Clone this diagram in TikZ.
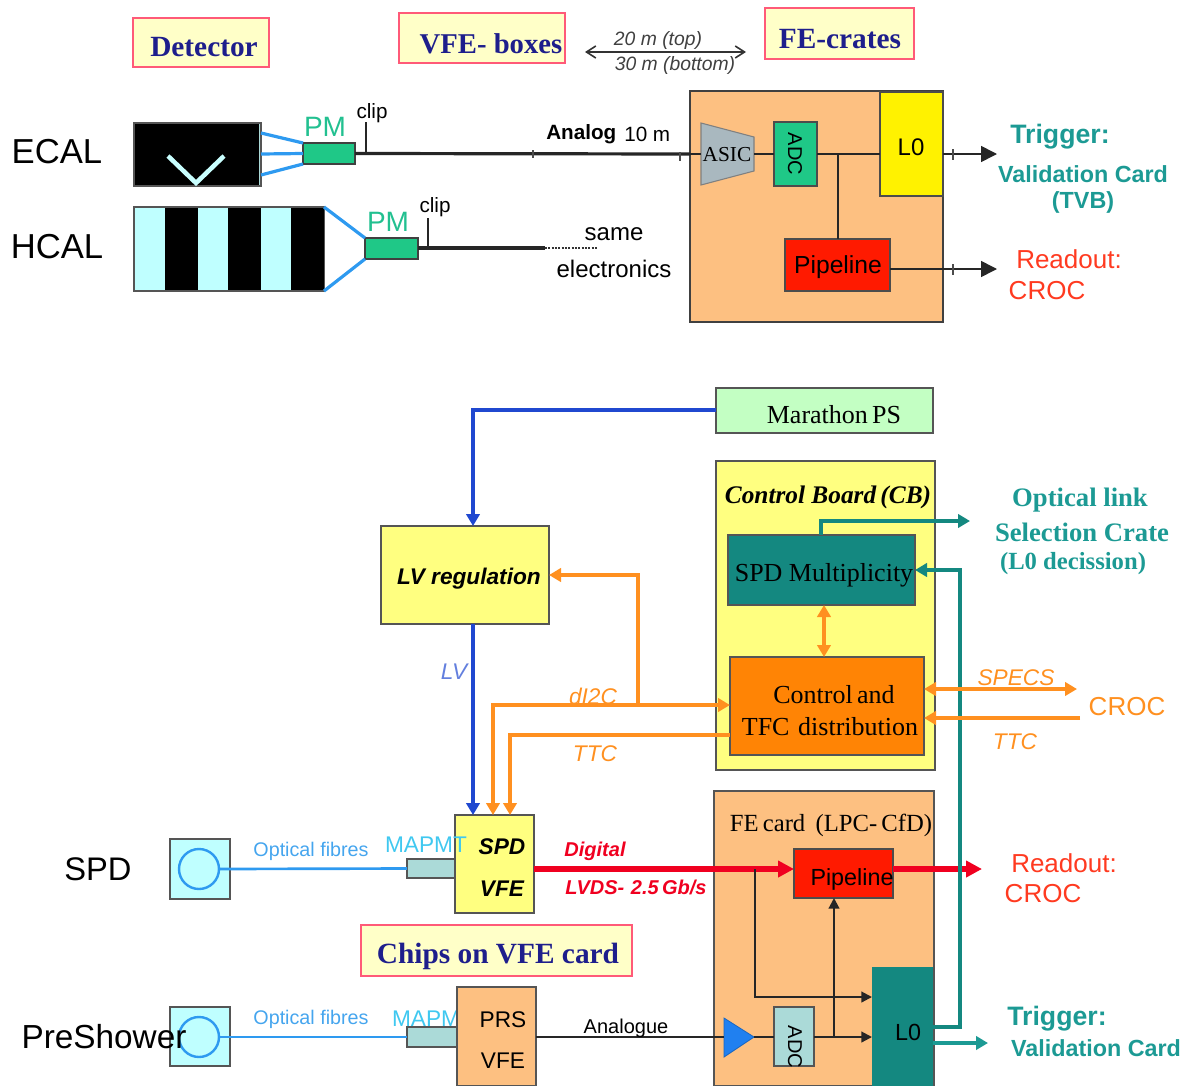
\documentclass[tikz,border=0pt]{standalone}
\usepackage{fontspec}
\setmainfont{Liberation Serif}
\setsansfont{Liberation Sans}
\usetikzlibrary{arrows.meta,calc}
\definecolor{titlefill}{HTML}{FFFFC8}
\definecolor{titleedge}{HTML}{FF5A78}
\definecolor{navy}{HTML}{1E1E8C}
\definecolor{feorange}{HTML}{FDC081}
\definecolor{pmgreen}{HTML}{1FC887}
\definecolor{pmtext}{HTML}{22C090}
\definecolor{palecyan}{HTML}{BFFFFF}
\definecolor{asicgrey}{HTML}{A9B8BF}
\definecolor{pipered}{HTML}{FF1A00}
\definecolor{teal1}{HTML}{148880}
\definecolor{tealtxt}{HTML}{1C9A94}
\definecolor{readred}{HTML}{FF3A20}
\definecolor{paleyel}{HTML}{FFFF80}
\definecolor{palegreen2}{HTML}{C3FFC3}
\definecolor{ctlorange}{HTML}{FF8405}
\definecolor{arrorange}{HTML}{FF9020}
\definecolor{lvblue}{HTML}{2048D0}
\definecolor{fibre}{HTML}{2E9AF0}
\definecolor{fibretxt}{HTML}{45A5EE}
\definecolor{mapmt}{HTML}{40C8F0}
\definecolor{adcpale}{HTML}{ABDAD8}
\definecolor{triblue}{HTML}{2080F0}
\definecolor{digred}{HTML}{F00020}
\definecolor{edgegrey}{HTML}{555555}
\newcommand{\fsz}[1]{\fontsize{#1}{#1}\selectfont}
\newcommand{\bx}[7][]{%
  \pgfmathsetmacro\bxcx{(#3+#5)/2}%
  \pgfmathsetmacro\bxcy{(#4+#6)/2}%
  \pgfmathsetmacro\bxw{abs(#5-#3)*0.75}%
  \pgfmathsetmacro\bxh{abs(#6-#4)*0.75}%
  \node[blk,#1,minimum width=\bxw pt,minimum height=\bxh pt] (#2) at (\bxcx,\bxcy) {#7};}
\tikzset{
  blk/.style={draw=edgegrey,line width=1.2pt,inner sep=0pt,outer sep=0pt,align=center},
  titlebox/.style={fill=titlefill,draw=titleedge,line width=1.8pt},
  titletxt/.style={text=navy,font=\rmfamily\bfseries\fsz{22},inner sep=0pt,yshift=-1pt},
  sans/.style={font=\sffamily\fsz{#1},inner sep=0pt,align=center,yshift=-1.5pt},
  sansb/.style={font=\sffamily\bfseries\fsz{#1},inner sep=0pt,align=center,yshift=-1.5pt},
  sansi/.style={font=\sffamily\itshape\fsz{#1},inner sep=0pt,align=center,yshift=-1.5pt},
  sansbi/.style={font=\sffamily\bfseries\itshape\fsz{#1},inner sep=0pt,align=center,yshift=-1.5pt},
  serif/.style={font=\rmfamily\fsz{#1},inner sep=0pt,align=center,yshift=-1.5pt},
  serifb/.style={font=\rmfamily\bfseries\fsz{#1},inner sep=0pt,align=center,yshift=-1.5pt},
  serifbi/.style={font=\rmfamily\bfseries\itshape\fsz{#1},inner sep=0pt,align=center,yshift=-1.5pt},
  sig/.style={draw=black!85,line width=1.6pt},
  thinsig/.style={draw=black!85,line width=1.2pt},
  tick/.style={draw=black!70,line width=.8pt},
  fib/.style={draw=fibre,line width=2pt},
  pmfib/.style={draw=fibre,line width=2.4pt},
  ora/.style={draw=arrorange,line width=3.6pt},
  tea/.style={draw=teal1,line width=3.6pt},
  blu/.style={draw=lvblue,line width=3.6pt},
  bighead/.style={-{Triangle[length=12pt,width=12pt]}},
  midhead/.style={-{Triangle[length=9pt,width=10pt]}},
  smallhead/.style={-{Triangle[length=8pt,width=8pt]}},
  bothhead/.style={{Triangle[length=9pt,width=10pt]}-{Triangle[length=9pt,width=10pt]}},
}
\begin{document}
\begin{tikzpicture}[x=0.75pt,y=-0.75pt]
\useasboundingbox (0,0) rectangle (1184,1085);
% ---- titles
\bx[titlebox]{tdet}{133}{18}{269}{67}{}
\node[titletxt] (tdett) at (204,46) {Detector};
\bx[titlebox]{tvfe}{399}{13}{565}{63}{}
\node[titletxt,font=\rmfamily\bfseries\fsz{21.5}] (tvfet) at (491,42) {VFE- boxes};
\bx[titlebox]{tfe}{765}{8}{914}{59}{}
\node[titletxt] (tfet) at (840,38) {FE-crates};
% ---- distance
\coordinate (dl) at (585,52);
\coordinate (dr) at (746,52);
\draw[draw=black!80,line width=1.2pt,{Straight Barb[length=7pt,width=9pt]}-{Straight Barb[length=7pt,width=9pt]}] (dl) -- (dr);
\node[sansi=14.5,text=black!75] (d20) at (658,39) {20 m (top)};
\node[sansi=14.5,text=black!75] (d30) at (675,63) {30 m (bottom)};
% ---- ECAL
\node[sans=26] (ecal) at (57,150) {ECAL};
\bx[fill=black,draw=edgegrey]{ecalbox}{134}{123}{261}{186}{}
\coordinate (va) at (168,156);
\coordinate (vb) at (196,183);
\coordinate (vc) at (224,156);
\draw[draw=palecyan!85!white,line width=3.4pt] (va) -- (vb) -- (vc);
\draw[draw=adcpale,line width=1.2pt] (ecalbox.north east) ++(-1.5,1) -- ($(ecalbox.south east)+(-1.5,-1)$);
\bx[fill=pmgreen,draw=black!75,line width=1.5pt]{pm1}{303}{143}{355}{164}{}
\draw[pmfib] (ecalbox.east |- 0,133) -- (pm1.north west);
\draw[pmfib] (ecalbox.east |- 0,154) -- (pm1.west);
\draw[pmfib] (ecalbox.east |- 0,175) -- (pm1.south west);
\node[sans=21,text=pmtext] (pm1t) at (325,125) {PM};
\coordinate (clip1) at (366,122);
\draw[sig] (clip1) -- (366,154);
\node[sans=15.5] (clip1t) at (372,111) {clip};
\bx[fill=feorange,draw=black!75]{febox}{690}{91}{943}{322}{}
\draw[sig,line width=2.4pt] (pm1.east) -- (febox.west |- 0,154);
\coordinate (tka) at (533,150);
\draw[tick] (tka) -- (533,158);
\coordinate (tkb) at (680,152);
\draw[tick] (tkb) -- (680,161);
\node[sansb=15.5,anchor=west] (analog) at (546,132) {Analog};
\node[sans=15.5,anchor=west] (tenm) at (624,132) {10 m};
% ---- HCAL
\node[sans=26] (hcal) at (57,245) {HCAL};
\bx[fill=palecyan,draw=edgegrey]{hcalbox}{134}{207}{324}{291}{}
\fill[black] (165,208) rectangle (198,290);
\fill[black] (228,208) rectangle (261,290);
\fill[black] (291,208) rectangle (324,290);
\bx[fill=pmgreen,draw=black!75,line width=1.5pt]{pm2}{365}{238}{418}{259}{}
\draw[pmfib] (hcalbox.north east) -- (pm2.north west);
\draw[pmfib] (hcalbox.south east) -- (pm2.south west);
\node[sans=21,text=pmtext] (pm2t) at (388,220) {PM};
\coordinate (clip2) at (428,218);
\draw[sig] (clip2) -- (428,248);
\node[sans=15.5] (clip2t) at (435,205) {clip};
\coordinate (hend) at (545,248);
\coordinate (hdot) at (597,248);
\draw[sig,line width=2.4pt] (pm2.east |- hend) -- (hend);
\draw[draw=black!80,line width=2pt,dash pattern=on 1.5pt off 1pt] (hend) -- (hdot);
\node[sans=18] (same) at (614,232) {same};
\node[sans=18] (elec) at (614,267) {electronics};
% ---- FE crate content
\bx[fill=yellow,draw=black!70]{lzero}{880}{92}{943}{196}{}
\node[sans=18] (lzerot) at (911,145) {L0};
\bx[fill=pmgreen,draw=black!70]{adc}{774}{122}{817}{186}{}
\node[sans=15,rotate=-90,xshift=-1.5pt] (adct) at (795,154) {ADC};
\bx[fill=pipered,draw=black!70]{pipe}{785}{239}{890}{291}{}
\node[sans=18.5] (pipet) at (838,265) {Pipeline};
\coordinate (asa) at (701,123);
\coordinate (asb) at (754,137);
\coordinate (asc) at (754,171);
\coordinate (asd) at (701,185);
\draw[fill=asicgrey,draw=black!50,line width=.8pt] (asa) -- (asb) -- (asc) -- (asd) -- cycle;
\node[serif=16] (asic) at (727,153) {ASIC};
\draw[thinsig,line width=1.6pt] (febox.west |- 0,154) -- (asd |- 0,154);
\draw[thinsig,line width=1.6pt] (asb |- 0,154) -- (adc.west);
\draw[thinsig,line width=1.6pt] (adc.east) -- (lzero.west |- 0,154);
\coordinate (brtop) at (838,154);
\draw[thinsig,line width=1.4pt] (brtop) -- (brtop |- pipe.north);
\coordinate (trg1) at (997,154);
\coordinate (rdo1) at (997,269);
\draw[thinsig,-{Triangle[length=12pt,width=12pt]}] (lzero.east |- trg1) -- (trg1);
\draw[thinsig,-{Triangle[length=12pt,width=12pt]}] (pipe.east |- rdo1) -- (rdo1);
\coordinate (tkc) at (953,149);
\draw[tick] (tkc) -- (953,160);
\coordinate (tkd) at (953,264);
\draw[tick] (tkd) -- (953,275);
\node[sansb=20,text=tealtxt] (trgt) at (1060,135) {Trigger:};
\node[sansb=17.5,text=tealtxt] (vct) at (1083,172) {Validation Card};
\node[sansb=17.5,text=tealtxt] (tvb) at (1083,200) {(TVB)};
\node[sans=19.5,text=readred] (rdt) at (1069,257) {Readout:};
\node[sans=19.5,text=readred] (crt) at (1047,289) {CROC};
% ---- Marathon / LV
\bx[fill=palegreen2,draw=edgegrey]{marathon}{716}{388}{933}{433}{}
\node[serif=19.5] (marathont) at (834,413) {Marathon\,PS};
\bx[fill=paleyel,draw=edgegrey]{lvreg}{381}{526}{549}{624}{}
\node[sansbi=17] (lvregt) at (469,577) {LV regulation};
\bx[fill=paleyel,draw=edgegrey]{cb}{716}{461}{935}{770}{}
\node[serifbi=19] (cbt) at (828,495) {Control Board\,(CB)};
\bx[fill=teal1,draw=edgegrey]{spdm}{728}{535}{915}{605}{}
\node[serif=19.5] (spdmt) at (824,573) {SPD Multiplicity};
\bx[fill=ctlorange,draw=edgegrey]{ctl}{730}{657}{924}{755}{}
\node[serif=19.5] (ctlt1) at (834,693) {Control\,and};
\node[serif=19.5] (ctlt2) at (830,725) {TFC\,\,distribution};
% ---- FE card, VFE
\bx[fill=feorange,draw=edgegrey]{fec}{714}{791}{934}{1086}{}
\node[serif=18.5] (fect) at (831,823) {FE\,card\, (LPC-\,CfD)};
\bx[fill=pipered,draw=black!70]{pipe2}{794}{849}{893}{898}{}
\bx[fill=teal1,draw=none]{lz2}{872}{967}{933}{1086}{}
\node[sans=17.5] (lz2t) at (908,1030) {L0};
\bx[fill=adcpale,draw=edgegrey]{adc2}{774}{1007}{814}{1066}{}
\node[sans=15,rotate=-90,xshift=-1.5pt] (adc2t) at (795,1047) {ADC};
% SPD row
\node[sans=24.5] (spdl) at (98,867) {SPD};
\bx[fill=palecyan,draw=edgegrey,line width=1.4pt]{sq1}{170}{839}{230}{899}{}
\node[circle,draw=fibre,line width=1.8pt,minimum size=30pt,inner sep=0pt] (c1) at (199,869) {};
\bx[fill=adcpale,draw=edgegrey]{mp1}{407}{859}{456}{878}{}
\draw[fib] (c1.east) -- (mp1.west);
\node[sans=14.8,text=fibretxt] (of1) at (311,849) {Optical fibres};
\bx[fill=paleyel,draw=edgegrey,line width=1.4pt]{svfe}{455}{815}{534}{913}{}
\node[sans=17,text=mapmt] (mpt1) at (426,843) {MAPMT};
\node[sansbi=17] (svfe1) at (502,845) {SPD};
\node[sansbi=17] (svfe2) at (502,887) {VFE};
\bx[titlebox]{tchips}{361}{925}{632}{976}{}
\node[titletxt] (tchipst) at (498,955) {Chips on VFE card};
% PRS row
\bx[fill=palecyan,draw=edgegrey,line width=1.4pt]{sq2}{170}{1007}{230}{1066}{}
\node[circle,draw=fibre,line width=1.8pt,minimum size=30pt,inner sep=0pt] (c2) at (199,1037) {};
\bx[fill=adcpale,draw=edgegrey]{mp2}{407}{1027}{458}{1047}{}
\draw[fib] (c2.east) -- (mp2.west);
\node[sans=14.8,text=fibretxt] (of2) at (311,1017) {Optical fibres};
\node[sans=17,text=mapmt] (mpt2) at (433,1017) {MAPMT};
\bx[fill=feorange,draw=edgegrey,line width=1.4pt]{pvfe}{457}{987}{536}{1086}{}
\node[sans=17] (pvfe1) at (503,1018) {PRS};
\node[sans=17] (pvfe2) at (503,1059) {VFE};
\node[sans=25] (prsl) at (104,1035) {PreShower};
% ---- blue
\coordinate (lvtop) at (473,410);
\draw[blu,midhead] (marathon.west |- lvtop) -- (lvtop) -- (lvtop |- lvreg.north);
\draw[blu,midhead] (lvtop |- lvreg.south) -- (lvtop |- svfe.north);
\node[sansi=17,text=lvblue!70!white] (lvt) at (454,670) {LV};
% ---- orange
\coordinate (d1) at (493,705);
\coordinate (d2) at (638,705);
\coordinate (d3) at (638,575);
\coordinate (t1) at (510,735);
\draw[ora,midhead] (d1) -- (ctl.west |- d1);
\draw[ora,midhead,line cap=rect] (d1) -- (d1 |- svfe.north);
\draw[ora,midhead] (d2) -- (d3) -- (lvreg.east |- d3);
\draw[ora,midhead] (ctl.west |- t1) -- (t1) -- (t1 |- svfe.north);
\node[sansi=17,text=arrorange] (i2c) at (593,694) {dI2C};
\node[sansi=17,text=arrorange] (ttcl) at (595,752) {TTC};
\coordinate (mido) at (824,605);
\draw[ora,bothhead] (mido) -- (mido |- ctl.north);
\coordinate (spe) at (1077,689);
\coordinate (ttr) at (1080,718);
\node[sans=19.5,text=arrorange] (crocq) at (1127,705) {CROC};
\node[sansi=17,text=arrorange] (spet) at (1016,676) {SPECS};
\node[sansi=17,text=arrorange] (ttct) at (1015,740) {TTC};
% ---- red
\coordinate (rd) at (755,869);
\draw[draw=digred,line width=3.8pt,bighead] (svfe.east |- rd) -- (pipe2.west |- rd);
\draw[draw=digred,line width=3.8pt,bighead] (pipe2.east |- rd) -- (982,869);
\node[sansbi=15,text=digred] (digt) at (595,849) {Digital};
\node[sansbi=15,text=digred] (lvds) at (636,885) {LVDS-\,\,2.5\,Gb/s};
\node[sans=17.5] (pipe2t) at (852,877) {Pipeline};
% ---- teal
\coordinate (ol) at (821,521);
\coordinate (olr) at (970,521);
\draw[tea,midhead] (ol |- spdm.north) -- (ol) -- (olr);
\coordinate (tu) at (960,570);
\coordinate (tb) at (960,1027);
\draw[tea,midhead] (lz2.east |- tb) -- (tb) -- (tu) -- (spdm.east |- tu);
\draw[ora,bothhead] (ctl.east |- spe) -- (spe);
\draw[ora,midhead] (ttr) -- (ctl.east |- ttr);
\node[serifb=20,text=tealtxt] (ol1) at (1080,498) {Optical link};
\node[serifb=20,text=tealtxt] (ol2) at (1082,530) {Selection Crate};
\node[serifb=18.5,text=tealtxt] (ol3) at (1073,562) {(L0 decission)};
% ---- FE card wiring
\coordinate (y997) at (755,997);
\draw[sig,smallhead] (rd) -- (y997) -- (lz2.west |- y997);
\coordinate (tria) at (724,1018);
\coordinate (trib) at (754,1037);
\coordinate (tric) at (724,1057);
\draw[fill=triblue,draw=triblue!80!black,line width=.6pt] (tria) -- (trib) -- (tric) -- cycle;
\draw[sig] (pvfe.east |- trib) -- (tria |- trib);
\node[sans=15] (ant) at (626,1026) {Analogue};
\draw[thinsig] (trib) -- (adc2.west |- trib);
\draw[sig,smallhead] (adc2.east |- trib) -- (lz2.west |- trib);
\coordinate (br2) at (834,1037);
\draw[sig,smallhead] (br2) -- (br2 |- pipe2.south);
\coordinate (tv) at (988,1043);
\draw[draw=tealtxt,line width=3.6pt,midhead] (lz2.east |- tv) -- (tv);
\node[sans=19.5,text=readred] (rd2) at (1064,861) {Readout:};
\node[sans=19.5,text=readred] (cr2) at (1043,892) {CROC};
\node[sansb=20,text=tealtxt] (tr2) at (1057,1017) {Trigger:};
\node[sansb=17.5,text=tealtxt] (vc2) at (1096,1046) {Validation Card};
\end{tikzpicture}
\end{document}
